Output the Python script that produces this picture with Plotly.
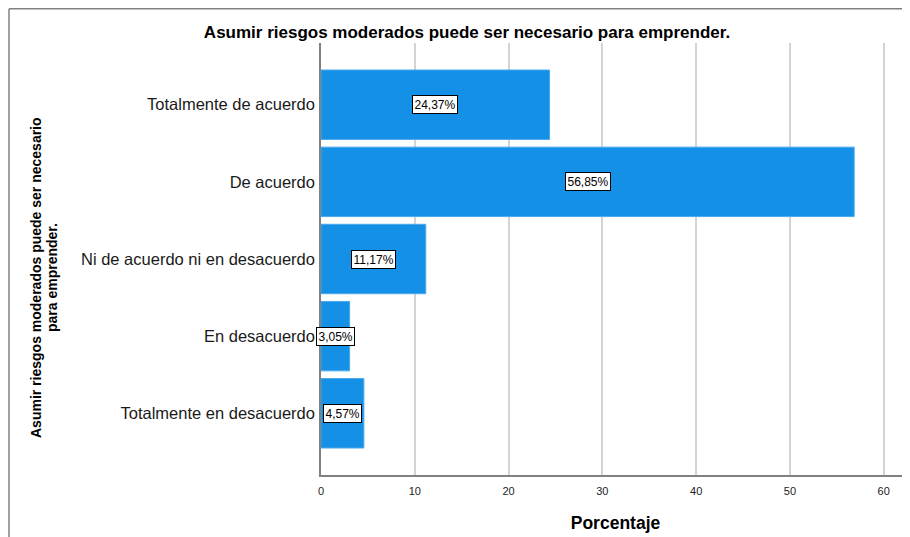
import plotly.graph_objects as go

categorias = ["Totalmente de acuerdo", "De acuerdo", "Ni de acuerdo ni en desacuerdo",
              "En desacuerdo", "Totalmente en desacuerdo"]
porcentajes = [24.37, 56.85, 11.17, 3.05, 4.57]
etiquetas = ["24,37%", "56,85%", "11,17%", "3,05%", "4,57%"]
x_ticks = [0, 10, 20, 30, 40, 50, 60]

# the page body adds an 8px margin, so the figure is 8px smaller than the window
W, H = 902, 529
L, R, T, B = 313, 0, 35, 62
pw = W - L - R
ph = H - T - B
FONT = "Liberation Sans, Arial"

fig = go.Figure()
fig.add_trace(go.Bar(
    x=porcentajes,
    y=categorias,
    orientation="h",
    width=0.9,
    marker=dict(color="#1490e6", line=dict(color="#4aa8ee", width=1)),
    hoverinfo="x+y",
))

# labels centred on each bar
for cat, val, txt in zip(categorias, porcentajes, etiquetas):
    fig.add_annotation(
        x=val / 2, y=cat, text=txt, showarrow=False,
        font=dict(family=FONT, size=12, color="#000000"),
        bgcolor="#ffffff", bordercolor="#000000", borderwidth=1, borderpad=1.5,
    )

def px_x(px):
    return (px - L) / pw

def px_y(py):
    return 1 - (py - T) / ph

# outer frame lines (left and top)
fig.add_shape(type="line", xref="paper", yref="paper",
              x0=px_x(1), x1=px_x(1), y0=px_y(0.75), y1=px_y(540),
              line=dict(color="#808080", width=1.5))
fig.add_shape(type="line", xref="paper", yref="paper",
              x0=px_x(1), x1=px_x(905), y0=px_y(0.75), y1=px_y(0.75),
              line=dict(color="#808080", width=1.5))

# y axis title: two rotated lines, set a little tighter than plotly's default
for xpos, line in [(28, "Asumir riesgos moderados puede ser necesario"),
                   (44, "para emprender.")]:
    fig.add_annotation(
        xref="paper", yref="paper", x=px_x(xpos), y=px_y(270),
        xanchor="center", yanchor="middle",
        text="<b>" + line + "</b>",
        textangle=-90, showarrow=False,
        font=dict(family=FONT, size=14, color="#000000"),
    )

fig.update_layout(
    width=W, height=H,
    margin=dict(l=L, r=R, t=T, b=B),
    paper_bgcolor="#ffffff",
    plot_bgcolor="#ffffff",
    showlegend=False,
    title=dict(
        text="<b>Asumir riesgos moderados puede ser necesario para emprender.</b>",
        x=px_x(459), xref="paper", xanchor="center",
        y=1 - 24 / H, yanchor="middle",
        font=dict(family=FONT, size=17, color="#000000"),
    ),
    xaxis=dict(
        range=[0, 62.8],
        tickvals=x_ticks,
        ticktext=[str(v) for v in x_ticks],
        showgrid=True, gridcolor="#d4d4d4", gridwidth=1.5,
        zeroline=False,
        showline=True, linecolor="#808080", linewidth=1.5,
        ticks="", ticklabelstandoff=5,
        tickfont=dict(family=FONT, size=11, color="#222222"),
        title=dict(text="<b>Porcentaje</b>", standoff=21,
                   font=dict(family=FONT, size=17.5, color="#000000")),
        fixedrange=True,
    ),
    yaxis=dict(
        range=[4.8, -0.8],
        showgrid=False, zeroline=False,
        showline=True, linecolor="#808080", linewidth=1.5,
        ticks="", ticklabelstandoff=1,
        tickfont=dict(family=FONT, size=16.5, color="#1a1a1a"),
        fixedrange=True,
    ),
    bargap=0.1,
)

fig.write_html("out.html")
